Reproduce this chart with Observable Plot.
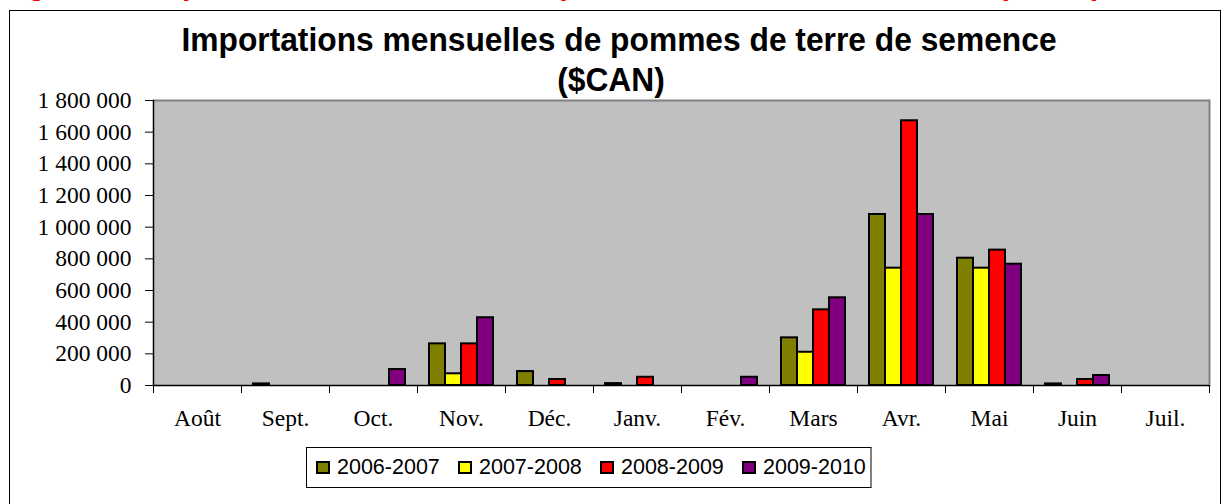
<!DOCTYPE html>
<html>
<head>
<meta charset="utf-8">
<script src="https://cdn.jsdelivr.net/npm/d3@7"></script>
<script src="https://cdn.jsdelivr.net/npm/@observablehq/plot@0.6"></script>
<style>
  html, body { margin: 0; padding: 0; background: #fff; }
  #wrap { position: relative; width: 1226px; height: 504px; overflow: hidden; background: #fff; }
  #wrap svg { position: absolute; left: 0; top: 0; }
  .figlabel { position: absolute; left: 0; top: -32px; white-space: nowrap; color: #ff0000;
    font: bold 30.6px "Liberation Sans", Arial, sans-serif; line-height: 30px; }
  .border { position: absolute; left: 9px; top: 10px; width: 1212px; height: 520px; border: 1px solid #000; box-sizing: border-box; }
  .title { position: absolute; width: 1000px; text-align: center; color: #000;
    font: bold 33px "Liberation Sans", Arial, sans-serif; white-space: nowrap; transform: scaleX(0.962); }
  .legend { position: absolute; left: 306px; top: 447px; width: 566px; height: 41px; box-sizing: border-box;
    border: 1px solid #000; border-right: 2px solid #808080; background: #fff; }
  .legend .item { position: absolute; top: 0; height: 39px; display: flex; align-items: center;
    font: 21.5px "Liberation Sans", Arial, sans-serif; color: #000; }
  .legend .sw { width: 14px; height: 13px; box-sizing: border-box; border: 2px solid #000; margin-right: 7px; }
</style>
</head>
<body>
<div id="wrap">
  <div class="figlabel">Figure 4 : Importations mensuelles de pommes de terre de semence ($CAN)</div>
  <div class="border"></div>
</div>
<script>
// ---- data ----
const months = ["Août","Sept.","Oct.","Nov.","Déc.","Janv.","Fév.","Mars","Avr.","Mai","Juin","Juil."];
const seriesNames = ["2006-2007","2007-2008","2008-2009","2009-2010"];
const seriesColors = ["#808000","#ffff00","#ff0000","#800080"];
const s2006_2007 = [0, 10000, 0, 263000, 88000, 12000, 0, 301000, 1080000, 804000, 10000, 0];
const s2007_2008 = [0, 0, 0, 74000, 0, 0, 0, 210000, 741000, 741000, 0, 0];
const s2008_2009 = [0, 0, 0, 263000, 38000, 52000, 0, 478000, 1672000, 855000, 38000, 0];
const s2009_2010 = [0, 0, 101000, 428000, 0, 0, 52000, 554000, 1080000, 766000, 63000, 0];
const yTicks = [0, 200000, 400000, 600000, 800000, 1000000, 1200000, 1400000, 1600000, 1800000];
const titleLines = ["Importations mensuelles de pommes de terre de semence", "($CAN)"];

const allSeries = [s2006_2007, s2007_2008, s2008_2009, s2009_2010];
const rows = [];
seriesNames.forEach((s, si) => {
  months.forEach((m, mi) => {
    const v = allSeries[si][mi];
    if (v > 0) rows.push({month: m, series: s, value: v});
  });
});

const fmt = v => d3.format(",")(v).replace(/,/g, " ");

const chart = Plot.plot({
  width: 1226,
  height: 504,
  marginTop: 100,
  marginBottom: 119,
  marginLeft: 153,
  marginRight: 17,
  style: {fontFamily: '"Liberation Serif", "Times New Roman", serif', fontSize: "23.5px", color: "#000", background: "transparent", overflow: "visible"},
  fx: {domain: months, padding: 0, label: null, axis: null},
  x: {domain: seriesNames, paddingInner: 0, paddingOuter: 0.75, axis: null},
  y: {domain: [0, 1800000], axis: null},
  color: {domain: seriesNames, range: seriesColors},
  marks: [
    Plot.frame({fill: "#c0c0c0", stroke: null, shapeRendering: "crispEdges"}),
    Plot.ruleY(months, {fx: d => d, y: () => 1800000, stroke: "#808080", strokeWidth: 2}),
    Plot.frame({anchor: "right", stroke: "#808080", strokeWidth: 2, facetAnchor: "right"}),
    Plot.barY(rows, {fx: "month", x: "series", y: "value", fill: "series", stroke: "#000", strokeWidth: 2}),
    Plot.ruleY(months, {fx: d => d, y: () => 0, stroke: "#000", strokeWidth: 1.5}),
    Plot.frame({anchor: "left", stroke: "#000", strokeWidth: 1.5, facetAnchor: "left"}),
    Plot.axisY(yTicks, {label: null, tickSize: 8, tickPadding: 14, tickFormat: fmt, stroke: "#000", fill: "#000", fontSize: 23.5}),
    Plot.axisFx({anchor: "bottom", label: null, tickSize: 0, tickPadding: 24, fontSize: 23.5, fill: "#000"}),
    Plot.axisFx({anchor: "bottom", label: null, tickSize: 8, tickFormat: () => "", dx: -44, stroke: "#000"}),
    Plot.axisFx(["Juil."], {anchor: "bottom", label: null, tickSize: 8, tickFormat: () => "", dx: 44, stroke: "#000"})
  ]
});
const wrap = document.getElementById("wrap");
wrap.insertBefore(chart, wrap.querySelector(".figlabel"));

// titles
const titlePos = [{cx: 619, top: 21}, {cx: 611, top: 61}];
titleLines.forEach((t, i) => {
  const d = document.createElement("div");
  d.className = "title";
  d.style.top = titlePos[i].top + "px";
  d.style.left = (titlePos[i].cx - 500) + "px";
  d.textContent = t;
  wrap.appendChild(d);
});

// legend
const leg = document.createElement("div");
leg.className = "legend";
seriesNames.forEach((s, i) => {
  const it = document.createElement("div");
  it.className = "item";
  it.style.left = (9 + i * 142) + "px";
  const sw = document.createElement("span");
  sw.className = "sw";
  sw.style.background = seriesColors[i];
  const tx = document.createElement("span");
  tx.textContent = s;
  it.appendChild(sw); it.appendChild(tx);
  leg.appendChild(it);
});
wrap.appendChild(leg);
</script>
</body>
</html>
